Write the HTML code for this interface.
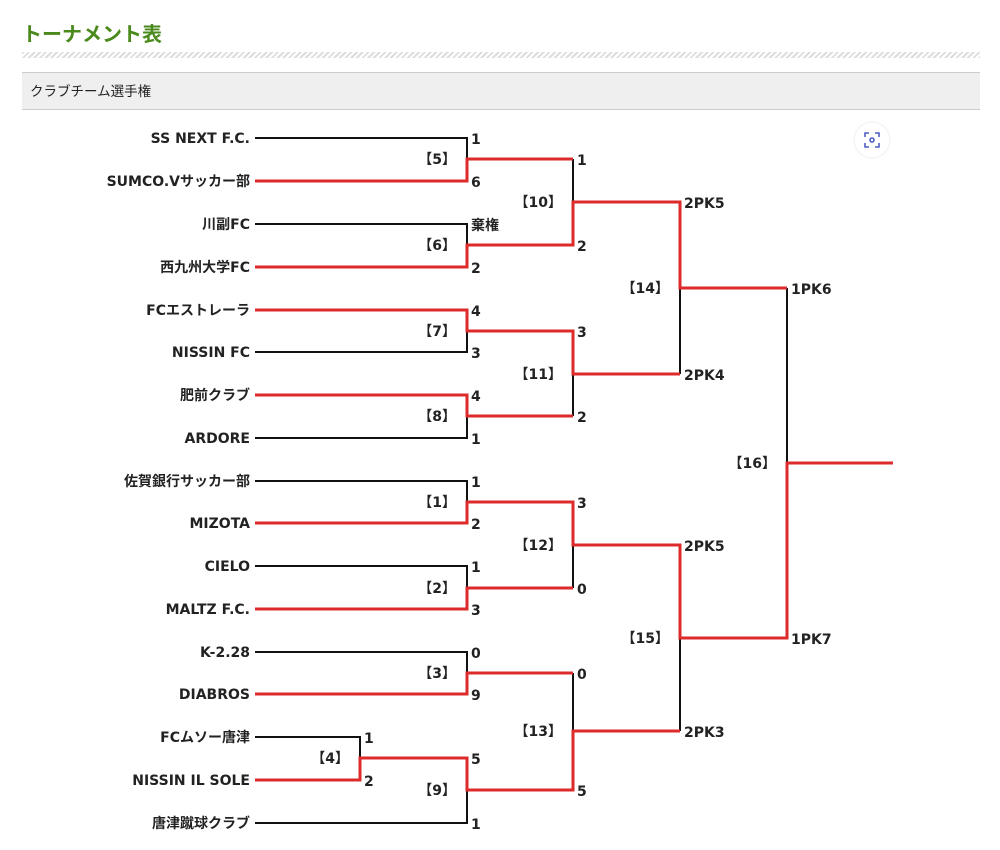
<!DOCTYPE html>
<html><head><meta charset="utf-8"><style>
body{margin:0;background:#fff;width:1000px;height:850px;overflow:hidden;font-family:"Liberation Sans","Noto Sans CJK JP",sans-serif}
.t{position:absolute;left:22px;top:18px;font-size:20px;font-weight:bold;color:#4a8a1c}
.h{position:absolute;left:22px;top:52px;width:958px;height:6px;background:repeating-linear-gradient(135deg,#ddd 0 2px,#fff 2px 4px)}
.b{position:absolute;left:22px;top:72px;width:958px;height:36px;background:#efefef;border-top:1px solid #ccc;border-bottom:1px solid #ccc}
.b span{position:absolute;left:8px;top:7px;font-size:13.5px;color:#222}
svg{position:absolute;left:0;top:0}
text{font-family:"DejaVu Sans","Noto Sans CJK JP",sans-serif;font-size:14px;font-weight:bold;fill:#222}
</style></head><body>
<div class="t">トーナメント表</div>
<div class="h"></div>
<div class="b"><span>クラブチーム選手権</span></div>
<svg width="1000" height="850">
<circle cx="872" cy="140" r="18" fill="#fff" stroke="#f0f0f0"/>
<g fill="none" stroke="#4f5ec4" stroke-width="1.6"><path d="M865 137v-4h4M875 133h4v4M879 143v4h-4M869 147h-4v-4"/><circle cx="872" cy="140" r="2"/></g>
<g stroke="#111" stroke-width="2" fill="none">
<path d="M255 138H467V159M255 224H467V245M255 352H467V331M255 438H467V416M255 481H467V502M255 566H467V588M255 652H467V673M255 737H360V758M255 823H467V790M573 159V202M573 416V374M573 588V545M573 673V731M680 374V288M680 731V638M787 288V463"/>
</g>
<g stroke="#dd2a2a" stroke-width="3" fill="none">
<path d="M255 181H467V159H573M255 267H467V245H573V202H680V288H787M255 310H467V331H573V374H680M255 395H467V416H573M255 523H467V502H573V545H680V638H787V463H893M255 609H467V588H573M255 694H467V673H573M255 780H360V758H467V790H573V731H680"/>
</g>
<g text-anchor="end">
<text x="250" y="143">SS NEXT F.C.</text><text x="250" y="186">SUMCO.Vサッカー部</text>
<text x="250" y="229">川副FC</text><text x="250" y="272">西九州大学FC</text>
<text x="250" y="315">FCエストレーラ</text><text x="250" y="357">NISSIN FC</text>
<text x="250" y="400">肥前クラブ</text><text x="250" y="443">ARDORE</text>
<text x="250" y="486">佐賀銀行サッカー部</text><text x="250" y="528">MIZOTA</text>
<text x="250" y="571">CIELO</text><text x="250" y="614">MALTZ F.C.</text>
<text x="250" y="657">K-2.28</text><text x="250" y="699">DIABROS</text>
<text x="250" y="742">FCムソー唐津</text><text x="250" y="785">NISSIN IL SOLE</text>
<text x="250" y="828">唐津蹴球クラブ</text>
<text x="456" y="164">【5】</text><text x="456" y="250">【6】</text><text x="456" y="336">【7】</text><text x="456" y="421">【8】</text>
<text x="456" y="507">【1】</text><text x="456" y="593">【2】</text><text x="456" y="678">【3】</text><text x="349" y="763">【4】</text>
<text x="456" y="795">【9】</text>
<text x="562" y="207">【10】</text><text x="562" y="379">【11】</text><text x="562" y="550">【12】</text><text x="562" y="736">【13】</text>
<text x="669" y="293">【14】</text><text x="669" y="643">【15】</text><text x="776" y="468">【16】</text>
</g>
<g>
<text x="471" y="144">1</text><text x="471" y="187">6</text><text x="471" y="230">棄権</text><text x="471" y="273">2</text>
<text x="471" y="316">4</text><text x="471" y="358">3</text><text x="471" y="401">4</text><text x="471" y="444">1</text>
<text x="471" y="487">1</text><text x="471" y="529">2</text><text x="471" y="572">1</text><text x="471" y="615">3</text>
<text x="471" y="658">0</text><text x="471" y="700">9</text><text x="364" y="743">1</text><text x="364" y="786">2</text>
<text x="471" y="764">5</text><text x="471" y="829">1</text>
<text x="577" y="165">1</text><text x="577" y="251">2</text><text x="577" y="337">3</text><text x="577" y="422">2</text>
<text x="577" y="508">3</text><text x="577" y="594">0</text><text x="577" y="679">0</text><text x="577" y="796">5</text>
<text x="684" y="208">2PK5</text><text x="684" y="380">2PK4</text><text x="684" y="551">2PK5</text><text x="684" y="737">2PK3</text>
<text x="791" y="294">1PK6</text><text x="791" y="644">1PK7</text>
</g>
</svg>
</body></html>
